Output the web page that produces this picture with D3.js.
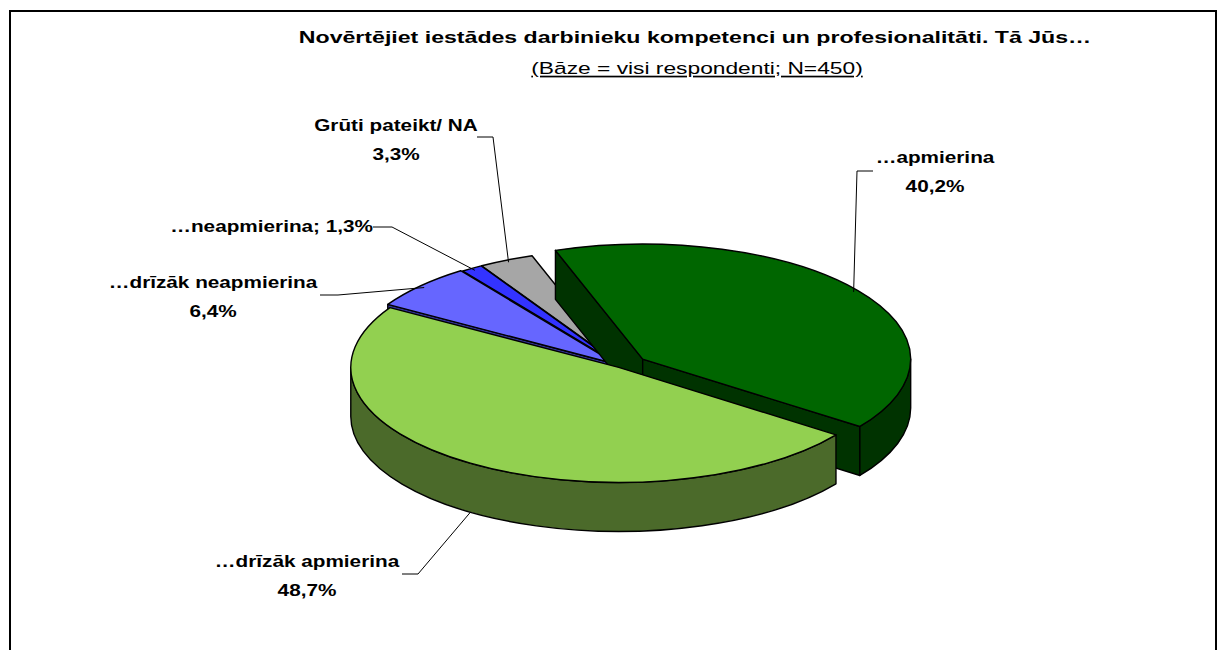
<!DOCTYPE html>
<html>
<head>
<meta charset="utf-8">
<script src="https://cdn.jsdelivr.net/npm/d3@7"></script>
<style>
body { margin: 0; background: #fff; }
text { font-family: "Liberation Sans", Arial, sans-serif; fill: #000; }
</style>
</head>
<body>
<script>
// data
var categories = ["…apmierina", "…drīzāk apmierina", "…drīzāk neapmierina", "…neapmierina", "Grūti pateikt/ NA"];
var values = [40.2, 48.7, 6.4, 1.3, 3.3];
var valueLabels = ["40,2%", "48,7%", "6,4%", "1,3%", "3,3%"];
var title = "Novērtējiet iestādes darbinieku kompetenci un profesionalitāti. Tā Jūs…";
var subtitle = "(Bāze = visi respondenti; N=450)";

// styles
var topColors = ["#006600", "#92d050", "#6666ff", "#3333ff", "#a6a6a6"];
var sideColors = ["#003300", "#4b6a2a", "#333399", "#1f1f99", "#666666"];
var explode = [27, 4, 6, 4, 4];

// label placement (text centre / baseline, elbow of the leader line)
var labelLayout = [
    {x: 935, y: 163, inline: false, elbow: [[873, 171], [857, 171]]},
    {x: 307, y: 567, inline: false, elbow: [[402, 574], [418, 574]]},
    {x: 213, y: 288, inline: false, elbow: [[320, 295], [338, 295]]},
    {x: 373, y: 232, inline: true,  elbow: [[373, 227], [392, 227]]},
    {x: 396, y: 131, inline: false, elbow: [[477, 137], [493, 137]]}
];

var W = 1227, H = 650;
var cx = 621, cy = 366, rx = 268, ry = 115, depth = 49;
var startAngle = -19 * Math.PI / 180;
var sx = 1.22;

var svg = d3.select("body").append("svg")
    .attr("width", W)
    .attr("height", H);

svg.append("rect")
    .attr("x", 10).attr("y", 11)
    .attr("width", 1206).attr("height", 700)
    .attr("fill", "#fff")
    .attr("stroke", "#000")
    .attr("stroke-width", 2);

var xs = d3.scaleLinear().domain([-1, 1]).range([cx - rx, cx + rx]);
var ys = d3.scaleLinear().domain([-1, 1]).range([cy - ry, cy + ry]);

var pie = d3.pie().sort(null).value(function(d){ return d; })
    .startAngle(startAngle).endAngle(startAngle + 2 * Math.PI);
var slices = pie(values).map(function(a, i){
    var mid = (a.startAngle + a.endAngle) / 2;
    return {
        i: i, s: a.startAngle, e: a.endAngle, mid: mid,
        ox: explode[i] * Math.sin(mid),
        oy: -explode[i] * Math.cos(mid) * ry / rx
    };
});

function p(sl, t, r, down){
    r = r === undefined ? 1 : r;
    return [xs(r * Math.sin(t)) + sl.ox, ys(-r * Math.cos(t)) + sl.oy + (down || 0)];
}
function centre(sl, down){
    return [xs(0) + sl.ox, ys(0) + sl.oy + (down || 0)];
}
function arcTo(sl, t0, t1, down){
    var q = p(sl, t1, 1, down);
    var large = Math.abs(t1 - t0) > Math.PI ? 1 : 0;
    var sweep = t1 > t0 ? 1 : 0;
    return "A" + rx + "," + ry + " 0 " + large + "," + sweep + " " + q[0] + "," + q[1];
}

function topPath(sl){
    var c = centre(sl), a = p(sl, sl.s);
    return "M" + c + "L" + a + arcTo(sl, sl.s, sl.e, 0) + "Z";
}
function radialWall(sl, t){
    var c = centre(sl), a = p(sl, t), c2 = centre(sl, depth), a2 = p(sl, t, 1, depth);
    return "M" + c + "L" + a + "L" + a2 + "L" + c2 + "Z";
}
function outerWalls(sl){
    var out = [];
    [-2 * Math.PI, 0, 2 * Math.PI].forEach(function(k){
        var u = Math.max(sl.s, Math.PI / 2 + k), v = Math.min(sl.e, 3 * Math.PI / 2 + k);
        if (v > u) {
            var a = p(sl, u), b2 = p(sl, v, 1, depth);
            out.push("M" + a + arcTo(sl, u, v, 0) + "L" + b2 + arcTo(sl, v, u, depth) + "Z");
        }
    });
    return out;
}

// back-to-front
var order = slices.slice().sort(function(a, b){ return -Math.cos(a.mid) + Math.cos(b.mid); });

var pieG = svg.append("g")
    .attr("stroke", "#000")
    .attr("stroke-width", 1.4)
    .attr("stroke-linejoin", "round");

order.forEach(function(sl){
    var g = pieG.append("g");
    if (Math.sin(sl.s) < 0)
        g.append("path").attr("d", radialWall(sl, sl.s)).attr("fill", sideColors[sl.i]);
    if (Math.sin(sl.e) > 0)
        g.append("path").attr("d", radialWall(sl, sl.e)).attr("fill", sideColors[sl.i]);
    outerWalls(sl).forEach(function(d){
        g.append("path").attr("d", d).attr("fill", sideColors[sl.i]);
    });
    g.append("path").attr("d", topPath(sl)).attr("fill", topColors[sl.i]);
});

// leader lines
var lineG = svg.append("g").attr("fill", "none").attr("stroke", "#000").attr("stroke-width", 1);
slices.forEach(function(sl){
    var front = Math.cos(sl.mid) < 0 && Math.abs(Math.sin(sl.mid)) < 0.9;
    var end = front ? p(sl, sl.mid, 1, depth) : p(sl, sl.mid, 0.98, 0);
    var pts = labelLayout[sl.i].elbow.concat([end]);
    lineG.append("path").attr("d", d3.line()(pts));
});

function addText(x, y, str, size, weight, anchor, scale){
    return svg.append("text")
        .attr("transform", "translate(" + x + "," + y + ") scale(" + scale + ",1)")
        .attr("text-anchor", anchor)
        .style("font-size", size + "px")
        .style("font-weight", weight)
        .text(str);
}

// labels
slices.forEach(function(sl){
    var L = labelLayout[sl.i];
    if (L.inline) {
        addText(L.x, L.y, categories[sl.i] + "; " + valueLabels[sl.i], 17, "bold", "end", sx);
    } else {
        addText(L.x, L.y, categories[sl.i], 17, "bold", "middle", sx);
        addText(L.x, L.y + 29, valueLabels[sl.i], 17, "bold", "middle", sx);
    }
});

addText(695, 43, title, 17, "bold", "middle", 1.36);
addText(697, 74, subtitle, 17, "normal", "middle", 1.34)
    .style("text-decoration", "underline");
</script>
</body>
</html>
